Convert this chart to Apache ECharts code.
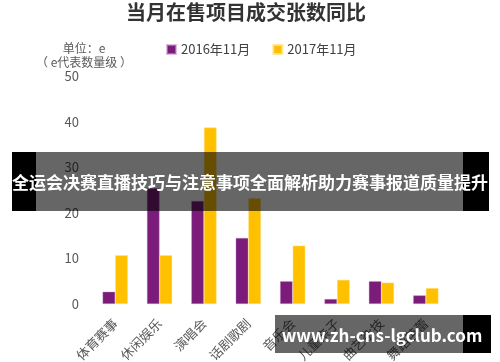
<!DOCTYPE html>
<html>
<head>
<meta charset="utf-8">
<script src="https://cdn.jsdelivr.net/npm/echarts@6/dist/echarts.min.js"></script>
<style>html,body{margin:0;padding:0;background:#fff;}#main{width:500px;height:362px;}</style>
</head>
<body>
<div id="main"></div>
<script>
const categories = ['体育赛事', '休闲娱乐', '演唱会', '话剧歌剧', '音乐会', '儿童亲子', '曲艺杂技', '舞蹈芭蕾'];
const series2016 = [2.7, 25.4, 22.6, 14.5, 5.0, 1.1, 5.0, 1.9];
const series2017 = [10.7, 10.7, 38.7, 23.2, 12.8, 5.3, 4.7, 3.5];
const seriesNames = ['2016年11月', '2017年11月'];
const yTicks = { min: 0, max: 50, interval: 10 };
const titleText = '当月在售项目成交张数同比';
const unitLines = ['单位：e', '（ e代表数量级 ）'];
const bannerText = '全运会决赛直播技巧与注意事项全面解析助力赛事报道质量提升';
const watermarkText = 'www.zh-cns-lgclub.com';

const FONT = '"Noto Sans CJK SC", "Noto Sans", sans-serif';
const chart = echarts.init(document.getElementById('main'), null, { renderer: 'canvas' });
chart.setOption({
  animation: false,
  backgroundColor: '#ffffff',
  textStyle: { fontFamily: FONT },
  title: {
    text: titleText, left: 121, top: -3,
    textStyle: { fontSize: 20, fontWeight: 'bold', color: '#333333', fontFamily: FONT }
  },
  legend: {
    data: seriesNames, left: 161, top: 38, itemWidth: 9, itemHeight: 9, itemGap: 22,
    icon: 'rect',
    textStyle: { fontSize: 13, color: '#404040', fontFamily: FONT }
  },
  grid: { left: 93, right: 52, top: 76, bottom: 58, containLabel: false, outerBoundsMode: 'none' },
  xAxis: {
    type: 'category', data: categories,
    axisLine: { show: false }, axisTick: { show: false },
    axisLabel: { rotate: 45, fontSize: 13, color: '#595959', margin: 17, interval: 0, fontFamily: FONT }
  },
  yAxis: {
    type: 'value', min: yTicks.min, max: yTicks.max, interval: yTicks.interval,
    splitLine: { show: false }, axisLine: { show: false }, axisTick: { show: false },
    axisLabel: { fontSize: 13, color: '#595959', margin: 14, fontFamily: FONT }
  },
  series: [
    { name: seriesNames[0], type: 'bar', data: series2016, barGap: '0%', barCategoryGap: '43%',
      itemStyle: { color: '#7B1C7B', borderColor: 'rgba(200,150,200,0.6)', borderWidth: 0.6 } },
    { name: seriesNames[1], type: 'bar', data: series2017,
      itemStyle: { color: '#FFC000', borderColor: 'rgba(255,225,140,0.8)', borderWidth: 0.6 } }
  ],
  graphic: [
    { type: 'text', x: 84, y: 48, z: 10,
      style: { text: unitLines[0], fill: '#595959', font: '12px ' + FONT, textAlign: 'center', textVerticalAlign: 'middle' } },
    { type: 'text', x: 84, y: 62, z: 10,
      style: { text: unitLines[1], fill: '#595959', font: '12px ' + FONT, textAlign: 'center', textVerticalAlign: 'middle' } },
    { type: 'rect', z: 100, shape: { x: 12, y: 152, width: 24, height: 59 }, style: { fill: '#000000' } },
    { type: 'rect', z: 100, shape: { x: 36, y: 152, width: 427, height: 59 }, style: { fill: 'rgba(0,0,0,0.6)' } },
    { type: 'rect', z: 100, shape: { x: 463, y: 152, width: 26, height: 59 }, style: { fill: '#000000' } },
    { type: 'text', z: 101, x: 250, y: 183,
      style: { text: bannerText, fill: '#ffffff', font: 'bold 17px ' + FONT, textAlign: 'center', textVerticalAlign: 'middle' } },
    { type: 'rect', z: 100, shape: { x: 275, y: 315, width: 188, height: 38 }, style: { fill: 'rgba(0,0,0,0.6)' } },
    { type: 'rect', z: 100, shape: { x: 463, y: 315, width: 28, height: 38 }, style: { fill: '#000000' } },
    { type: 'text', z: 101, x: 382, y: 336,
      style: { text: watermarkText, fill: '#ffffff', font: 'bold 17px ' + FONT, textAlign: 'center', textVerticalAlign: 'middle' } }
  ]
});
</script>
</body>
</html>
